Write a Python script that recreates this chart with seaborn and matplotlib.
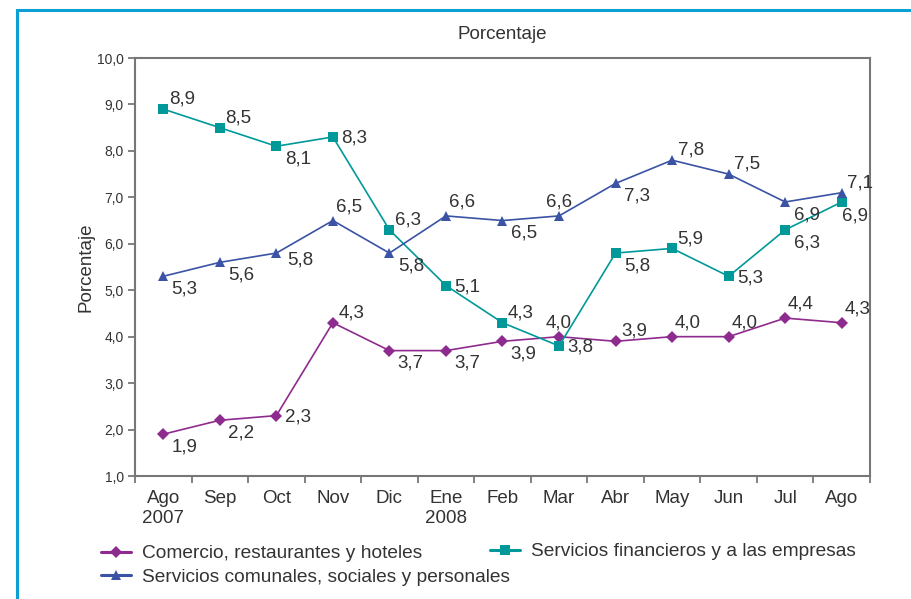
import matplotlib
matplotlib.use("Agg")
import matplotlib.pyplot as plt
from matplotlib.lines import Line2D
from matplotlib.patches import Rectangle
import seaborn as sns
import pandas as pd
import numpy as np

months = ["Ago\n2007", "Sep", "Oct", "Nov", "Dic", "Ene\n2008", "Feb", "Mar",
          "Abr", "May", "Jun", "Jul", "Ago"]
comercio = [1.9, 2.2, 2.3, 4.3, 3.7, 3.7, 3.9, 4.0, 3.9, 4.0, 4.0, 4.4, 4.3]
financieros = [8.9, 8.5, 8.1, 8.3, 6.3, 5.1, 4.3, 3.8, 5.8, 5.9, 5.3, 6.3, 6.9]
comunales = [5.3, 5.6, 5.8, 6.5, 5.8, 6.6, 6.5, 6.6, 7.3, 7.8, 7.5, 6.9, 7.1]
y_ticks = [1.0, 2.0, 3.0, 4.0, 5.0, 6.0, 7.0, 8.0, 9.0, 10.0]

names = ["Comercio, restaurantes y hoteles",
         "Servicios financieros y a las empresas",
         "Servicios comunales, sociales y personales"]
series = [comercio, financieros, comunales]

# label placement codes (style only)
pos_codes = {
    names[0]: ["lr", "lr", "r", "ur", "lr", "lr", "lr", "uc", "ur", "u", "u", "u", "u"],
    names[1]: ["ur", "ur", "lr", "r", "ur", "r", "ur", "r", "lr", "ur", "r", "lr", "d"],
    names[2]: ["lr", "lr", "rl", "u", "lr", "u", "lr", "uc", "lr", "ur", "ur", "lr", "ur"],
}
offsets = {
    "ur": (4, 1, "left", "bottom"),
    "r": (6, -1, "left", "center"),
    "rl": (8, 1, "left", "top"),
    "lr": (6, -3, "left", "top"),
    "u": (2, 4, "left", "bottom"),
    "uc": (0, 4, "center", "bottom"),
    "d": (0, -4, "left", "top"),
}

colors = {names[0]: "#8e2b8e", names[1]: "#00999a", names[2]: "#3a53a4"}
markers = {names[0]: "D", names[1]: "s", names[2]: "^"}
msizes = {names[0]: 6, names[1]: 6.5, names[2]: 7.5}

rows = []
for n, vals in zip(names, series):
    for i, v in enumerate(vals):
        rows.append({"idx": i, "valor": v, "serie": n})
df = pd.DataFrame(rows)

sns.set_theme(style="white")
plt.rcParams["font.family"] = ["Liberation Sans", "DejaVu Sans"]
txt = "#333333"

fig = plt.figure(figsize=(9.12, 5.99), dpi=100)
ax = fig.add_axes([135 / 912, 1 - 476 / 599, (870 - 135) / 912, (476 - 58) / 599])

for n in names:
    sub = df[df["serie"] == n]
    sns.lineplot(data=sub, x="idx", y="valor", ax=ax, color=colors[n],
                 marker=markers[n], markersize=msizes[n], markeredgewidth=0,
                 linewidth=1.2, sort=False, legend=False)
    for i, v in zip(sub["idx"], sub["valor"]):
        dx, dy, ha, va = offsets[pos_codes[n][i]]
        ax.annotate(f"{v:.1f}".replace(".", ","), (i, v), xytext=(dx, dy),
                    textcoords="offset points", ha=ha, va=va,
                    fontsize=13.5, color=txt)

ax.set_xlim(-0.5, len(months) - 0.5)
ax.set_ylim(1, 10)
ax.set_yticks(y_ticks)
ax.set_yticklabels([f"{t:.1f}".replace(".", ",") for t in y_ticks], fontsize=10, color=txt)
ax.set_xticks(range(len(months)))
ax.set_xticklabels(months, fontsize=13.5, color=txt, linespacing=1.25)
ax.set_xticks(np.arange(-0.5, len(months), 1.0), minor=True)
ax.tick_params(axis="x", which="major", length=0, pad=10)
ax.tick_params(axis="x", which="minor", length=5, width=1.3, color="#777777", direction="out", bottom=True)
ax.tick_params(axis="y", length=5, width=1.3, color="#777777", direction="out", left=True, pad=3)
for s in ax.spines.values():
    s.set_color("#777777")
    s.set_linewidth(1.5)
ax.set_xlabel("")
ax.set_ylabel("Porcentaje", fontsize=13.5, color=txt, labelpad=2)
ax.set_title("Porcentaje", fontsize=13.5, color=txt, pad=14)

def handle(n):
    return Line2D([0], [0], color=colors[n], marker=markers[n], markersize=msizes[n],
                  markeredgewidth=0, linewidth=2.2)

leg_kw = dict(frameon=False, fontsize=13.8, handlelength=1.55, handletextpad=0.6,
              labelspacing=0.3, borderaxespad=0, borderpad=0, labelcolor=txt)
fig.legend([handle(names[0]), handle(names[2])], [names[0], names[2]],
           loc="upper left", bbox_to_anchor=(101 / 912, 1 - 545 / 599), **leg_kw)
fig.legend([handle(names[1])], [names[1]],
           loc="upper left", bbox_to_anchor=(490 / 912, 1 - 543 / 599), **leg_kw)

# blue frame around the figure (left and top edges visible)
fig.patches.append(Rectangle((17 / 912, -0.2), 1.2, 1.2 - 9.5 / 599, transform=fig.transFigure,
                             fill=False, edgecolor="#0aa0d4", linewidth=2.2, zorder=10))

fig.savefig("out.png", dpi=100)
